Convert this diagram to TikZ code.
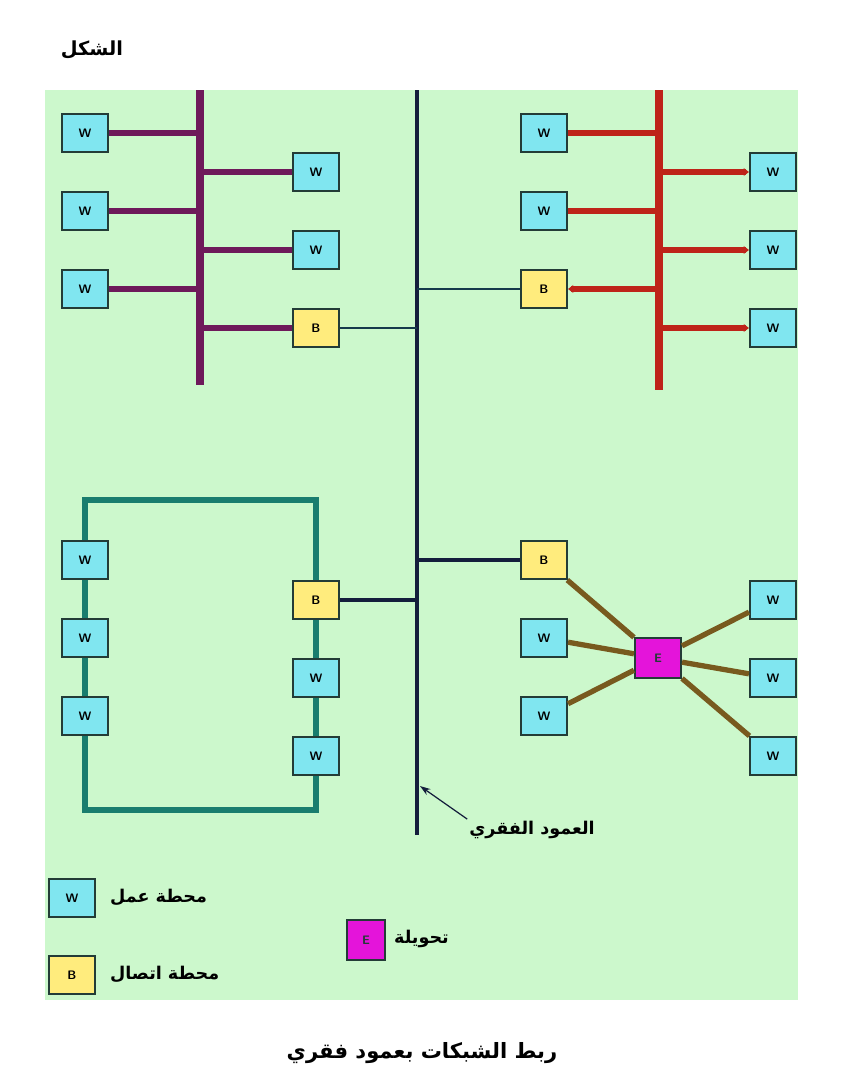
\documentclass[tikz,border=0pt]{standalone}
\usepackage{fontspec}
\usepackage{xcolor}
\usepackage{tikz}
\usetikzlibrary{arrows.meta}
\newfontfamily\arabicfont[Script=Arabic]{DejaVu Sans}
\TeXXeTstate=1
\definecolor{bggreen}{RGB}{204,248,204}
\definecolor{wcyan}{RGB}{128,230,240}
\definecolor{byellow}{RGB}{255,236,125}
\definecolor{emagenta}{RGB}{228,20,218}
\definecolor{boxedge}{RGB}{35,60,55}
\definecolor{buspurple}{RGB}{110,25,90}
\definecolor{busred}{RGB}{190,35,25}
\definecolor{ringteal}{RGB}{25,125,110}
\definecolor{starbrown}{RGB}{120,90,30}
\definecolor{trunknavy}{RGB}{20,30,60}

\begin{document}
\begin{tikzpicture}[x=0.02cm, y=-0.02cm, node distance=1.56cm]
\tikzstyle{wbox} = [rectangle, minimum width=0.92cm, minimum height=0.76cm, inner sep=0pt, draw=boxedge, line width=1.2pt, fill=wcyan, font=\sffamily\bfseries\fontsize{7}{7}\selectfont]
\tikzstyle{bbox} = [wbox, fill=byellow]
\tikzstyle{ebox} = [wbox, fill=emagenta, minimum height=0.8cm, text=boxedge]
\tikzstyle{pbus} = [buspurple, line width=4pt]
\tikzstyle{pbranch} = [buspurple, line width=3.2pt]
\tikzstyle{rbus} = [busred, line width=4pt]
\tikzstyle{rbranch} = [busred, line width=3.2pt]
\tikzstyle{rarrow} = [rbranch, -{Stealth[length=3pt,width=4.5pt]}]
\tikzstyle{ring} = [ringteal, line width=3.4pt]
\tikzstyle{spoke} = [starbrown, line width=3pt]
\tikzstyle{trunk} = [trunknavy, line width=2.2pt]
\tikzstyle{link} = [trunknavy!70!ringteal, line width=0.9pt]
\tikzstyle{pointer} = [trunknavy, line width=0.7pt, -{Stealth[length=6pt,width=4pt]}]
\tikzstyle{arlabel} = [font=\arabicfont\bfseries\fontsize{10}{12}\selectfont, inner sep=1pt]

\useasboundingbox (0,0) rectangle (846,1080);
\fill[bggreen] (45,90) rectangle (798,1000);

\coordinate (bbtop) at (417,90);
\coordinate (bbbot) at (417,835);
\coordinate (ptop) at (200,90);
\coordinate (pbot) at (200,385);
\coordinate (rtop) at (659,90);
\coordinate (rbot) at (659,390);
\coordinate (ring1) at (85,500);
\coordinate (ring2) at (316,500);
\coordinate (ring3) at (316,810);
\coordinate (ring4) at (85,810);

\node (tlw1) [wbox] at (85,133) {W};
\node (tlw2) [wbox, below of=tlw1] {W};
\node (tlw3) [wbox, below of=tlw2] {W};
\node (tlw4) [wbox] at (316,172) {W};
\node (tlw5) [wbox, below of=tlw4] {W};
\node (tlb) [bbox, below of=tlw5] {B};

\node (trw1) [wbox] at (544,133) {W};
\node (trw2) [wbox, below of=trw1] {W};
\node (trb) [bbox, below of=trw2] {B};
\node (trw3) [wbox] at (773,172) {W};
\node (trw4) [wbox, below of=trw3] {W};
\node (trw5) [wbox, below of=trw4] {W};

\node (rw1) [wbox] at (85,560) {W};
\node (rw2) [wbox, below of=rw1] {W};
\node (rw3) [wbox, below of=rw2] {W};
\node (rb) [bbox] at (316,600) {B};
\node (rw4) [wbox, below of=rb] {W};
\node (rw5) [wbox, below of=rw4] {W};

\node (sb) [bbox] at (544,560) {B};
\node (sw1) [wbox, below of=sb] {W};
\node (sw2) [wbox, below of=sw1] {W};
\node (sw3) [wbox] at (773,600) {W};
\node (sw4) [wbox, below of=sw3] {W};
\node (sw5) [wbox, below of=sw4] {W};
\node (se) [ebox] at (658,658) {E};

\draw [trunk] (bbtop) -- (bbbot);
\draw [link] (tlb) -- (tlb -| bbtop);
\draw [link] (trb) -- (trb -| bbtop);
\draw [trunk] (rb) -- (rb -| bbtop);
\draw [trunk] (sb) -- (sb -| bbtop);

\draw [pbus] (ptop) -- (pbot);
\draw [pbranch] (tlw1) -- (tlw1 -| ptop);
\draw [pbranch] (tlw2) -- (tlw2 -| ptop);
\draw [pbranch] (tlw3) -- (tlw3 -| ptop);
\draw [pbranch] (tlw4 -| ptop) -- (tlw4);
\draw [pbranch] (tlw5 -| ptop) -- (tlw5);
\draw [pbranch] (tlb -| ptop) -- (tlb);

\draw [rbus] (rtop) -- (rbot);
\draw [rbranch] (trw1) -- (trw1 -| rtop);
\draw [rbranch] (trw2) -- (trw2 -| rtop);
\draw [rarrow] (trb -| rtop) -- (trb);
\draw [rarrow] (trw3 -| rtop) -- (trw3);
\draw [rarrow] (trw4 -| rtop) -- (trw4);
\draw [rarrow] (trw5 -| rtop) -- (trw5);

\draw [ring] (rw1) -- (ring1) -- (ring2) -- (rb);
\draw [ring] (rb) -- (rw4);
\draw [ring] (rw4) -- (rw5);
\draw [ring] (rw5) -- (ring3) -- (ring4) -- (rw3);
\draw [ring] (rw3) -- (rw2);
\draw [ring] (rw2) -- (rw1);

\draw [spoke] (sb) -- (se);
\draw [spoke] (sw1) -- (se);
\draw [spoke] (sw2) -- (se);
\draw [spoke] (se) -- (sw3);
\draw [spoke] (se) -- (sw4);
\draw [spoke] (se) -- (sw5);

\node (bblabel) [arlabel] at (532,830) {\beginR العمود الفقري\endR};
\coordinate (bbmark) at (420,786);
\draw [pointer] (bblabel.north west) -- (bbmark);

\node (legw) [wbox] at (72,898) {W};
\node (legb) [bbox] at (72,975) {B};
\node (lege) [ebox, minimum width=0.76cm] at (366,940) {E};
\node (legwtext) [arlabel, anchor=west] at (108,897) {\beginR محطة عمل\endR};
\node (legbtext) [arlabel, anchor=west] at (108,974) {\beginR محطة اتصال\endR};
\node (legetext) [arlabel, anchor=west] at (392,939) {\beginR تحويلة\endR};

\node (title) [arlabel, font=\arabicfont\bfseries\fontsize{11}{13}\selectfont] at (92,50) {\beginR الشكل\endR};
\node (caption) [arlabel, font=\arabicfont\bfseries\fontsize{12}{14}\selectfont] at (422,1053) {\beginR ربط الشبكات بعمود فقري\endR};
\end{tikzpicture}
\end{document}
